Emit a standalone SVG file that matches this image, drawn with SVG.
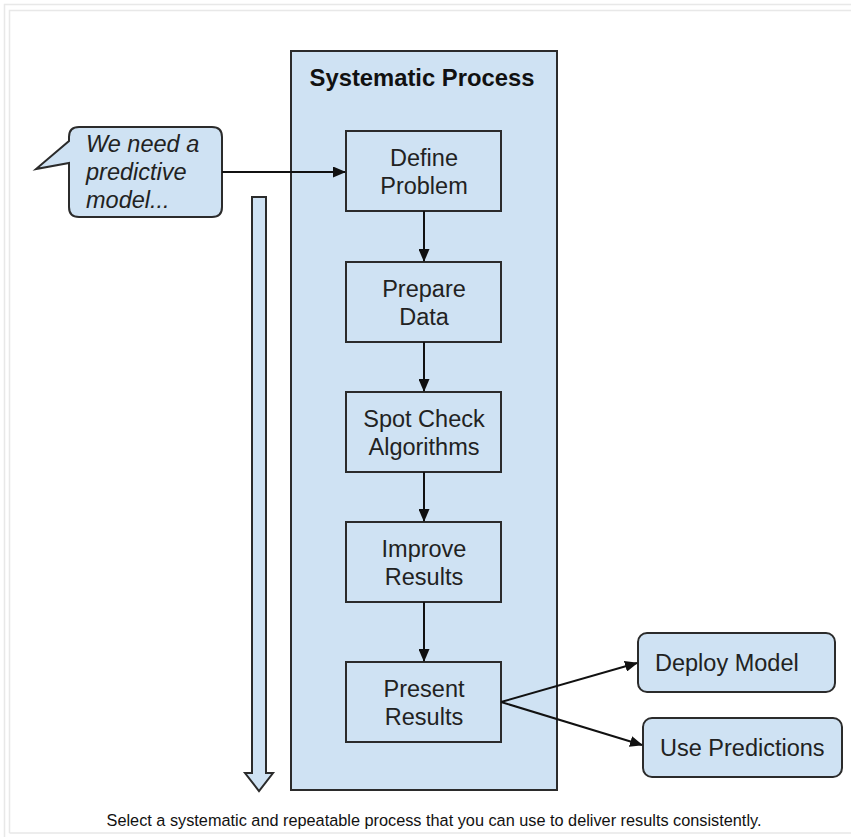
<svg xmlns="http://www.w3.org/2000/svg" width="851" height="837" viewBox="0 0 851 837">
<defs>
<marker id="ah" markerWidth="13" markerHeight="11" refX="12" refY="5.5" orient="auto" markerUnits="userSpaceOnUse" viewBox="0 0 13 11">
<path d="M0,0 L13,5.5 L0,11 z" fill="#111"/>
</marker>
<style>
.box{fill:#cfe2f3;stroke:#2b2b2b;stroke-width:2}
.t{font-family:"Liberation Sans",Arial,sans-serif;font-size:23.5px;fill:#222;text-anchor:middle}
.conn{stroke:#111;stroke-width:2;fill:none;marker-end:url(#ah)}
.frame{fill:none;stroke:#e8e8e8;stroke-width:1.5}
</style>
</defs>
<rect width="851" height="837" fill="#fff"/>
<path class="frame" d="M4.5,837 V4.5 H851"/>
<path class="frame" d="M9.5,833 V10.5 H851 M9.5,833 H851"/>

<g id="container">
<rect class="box" x="291" y="51" width="266" height="739"/>
<text x="422" y="86" font-family="Liberation Sans,Arial,sans-serif" font-weight="bold" font-size="23.8" fill="#111" text-anchor="middle">Systematic Process</text>
</g>

<g id="bubble">
<path class="box" d="M79,127 H212 Q222,127 222,137 V207 Q222,217 212,217 H79 Q69,217 69,207 V163 L36,169 L69,141 V137 Q69,127 79,127 Z"/>
<text font-family="Liberation Sans,Arial,sans-serif" font-style="italic" font-size="23.5" fill="#222"><tspan x="86" y="152">We need a</tspan><tspan x="86" y="180">predictive</tspan><tspan x="86" y="208">model...</tspan></text>
</g>

<g id="bigarrow">
<path d="M252,197 H266 V773 H273 L259,791 L245,773 H252 Z" fill="#cfe2f3" stroke="#2b2b2b" stroke-width="2" stroke-linejoin="miter"/>
</g>

<g id="define">
<rect class="box" x="346" y="131" width="155" height="80"/>
<text class="t"><tspan x="424" y="166">Define</tspan><tspan x="424" y="194">Problem</tspan></text>
</g>
<g id="prepare">
<rect class="box" x="346" y="262" width="155" height="80"/>
<text class="t"><tspan x="424" y="297">Prepare</tspan><tspan x="424" y="325">Data</tspan></text>
</g>
<g id="spotcheck">
<rect class="box" x="346" y="392" width="155" height="80"/>
<text class="t"><tspan x="424" y="427">Spot Check</tspan><tspan x="424" y="455">Algorithms</tspan></text>
</g>
<g id="improve">
<rect class="box" x="346" y="522" width="155" height="80"/>
<text class="t"><tspan x="424" y="557">Improve</tspan><tspan x="424" y="585">Results</tspan></text>
</g>
<g id="present">
<rect class="box" x="346" y="662" width="155" height="80"/>
<text class="t"><tspan x="424" y="697">Present</tspan><tspan x="424" y="725">Results</tspan></text>
</g>

<g id="deploy">
<rect class="box" x="638" y="633" width="197" height="59" rx="9"/>
<text x="655" y="671" font-family="Liberation Sans,Arial,sans-serif" font-size="23.5" fill="#222">Deploy Model</text>
</g>
<g id="usepred">
<rect class="box" x="643" y="718" width="199" height="59" rx="9"/>
<text x="660" y="756" font-family="Liberation Sans,Arial,sans-serif" font-size="23.5" fill="#222">Use Predictions</text>
</g>

<g id="connectors">
<line class="conn" x1="222" y1="172" x2="345" y2="172"/>
<line class="conn" x1="424" y1="211" x2="424" y2="261"/>
<line class="conn" x1="424" y1="342" x2="424" y2="391"/>
<line class="conn" x1="424" y1="472" x2="424" y2="521"/>
<line class="conn" x1="424" y1="602" x2="424" y2="661"/>
<line class="conn" x1="501" y1="702" x2="637" y2="663"/>
<line class="conn" x1="501" y1="702" x2="642" y2="745"/>
</g>

<text x="434" y="826" font-family="Liberation Sans,Arial,sans-serif" font-size="16.3" fill="#111" text-anchor="middle">Select a systematic and repeatable process that you can use to deliver results consistently.</text>
</svg>
